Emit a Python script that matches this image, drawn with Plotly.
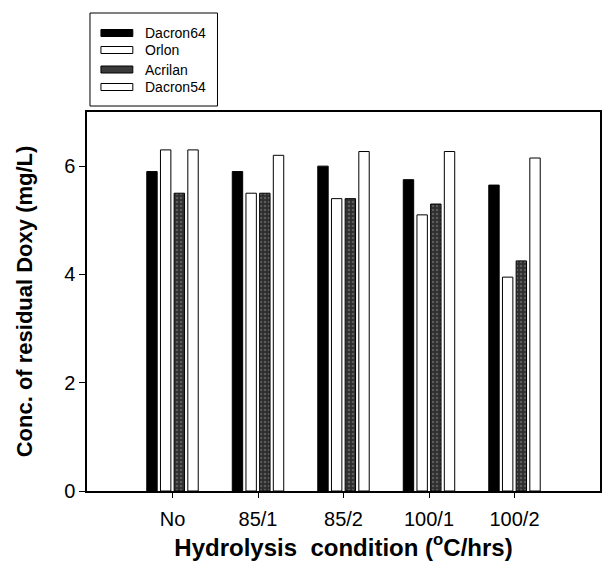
import plotly.graph_objects as go

categories = ["No", "85/1", "85/2", "100/1", "100/2"]
series_names = ["Dacron64", "Orlon", "Acrilan", "Dacron54"]
dacron64 = [5.9, 5.9, 6.0, 5.75, 5.65]
orlon = [6.3, 5.5, 5.4, 5.1, 3.95]
acrilan = [5.5, 5.5, 5.4, 5.3, 4.25]
dacron54 = [6.3, 6.2, 6.27, 6.27, 6.15]
y_ticks = [0, 2, 4, 6]

W, H = 613, 570
L, R, T, B = 87, 11, 112, 79
pw, ph = W - L - R, H - T - B

x_pos = list(range(1, len(categories) + 1))

fig = go.Figure()
styles = [
    dict(color="black"),
    dict(color="white"),
    dict(color="#2e2e2e", pattern=dict(shape=".", fgcolor="#8a8a8a", size=4, solidity=0.3)),
    dict(color="white"),
]
for name, vals, st in zip(series_names, [dacron64, orlon, acrilan, dacron54], styles):
    fig.add_trace(go.Bar(
        x=x_pos, y=vals, name=name, showlegend=False,
        marker=dict(line=dict(color="black", width=1), **st),
    ))

fig.update_layout(
    width=W, height=H,
    margin=dict(l=L, r=R, t=T, b=B),
    paper_bgcolor="white", plot_bgcolor="white",
    barmode="group", bargap=0.36, bargroupgap=0.24,
    font=dict(family="Arial, Liberation Sans, sans-serif", color="black"),
)
fig.update_xaxes(
    range=[0, 6], tickvals=x_pos, ticktext=categories,
    showline=True, linecolor="black", linewidth=1.5, mirror=True,
    ticks="outside", ticklen=5, tickcolor="black", showgrid=False, zeroline=False,
    tickfont=dict(size=20), ticklabelstandoff=4,
    title=dict(text="Hydrolysis  condition (<sup>o</sup>C/hrs)", font=dict(size=24, weight="bold"), standoff=10),
)
fig.update_yaxes(
    range=[0, 7], tickvals=y_ticks,
    showline=True, linecolor="black", linewidth=1.5, mirror=True,
    ticks="outside", ticklen=6, tickcolor="black", showgrid=False, zeroline=False,
    tickfont=dict(size=20),
    title=dict(text="Conc. of residual Doxy (mg/L)", font=dict(size=22, weight="bold"), standoff=25),
)

# manual legend (pixel layout converted to paper coords)
def px(x):
    return (x - L) / pw
def py(y):
    return (H - B - y) / ph

shapes = [dict(type="rect", xref="paper", yref="paper", x0=px(90), x1=px(218), y0=py(106), y1=py(13),
               line=dict(color="black", width=1), fillcolor="white", layer="above")]
sw_fill = ["black", "white", "#3a3a3a", "white"]
rows = [33, 50, 69.5, 87]
for name, fill, ry in zip(series_names, sw_fill, rows):
    shapes.append(dict(type="rect", xref="paper", yref="paper", x0=px(101), x1=px(133),
                       y0=py(ry + 3.5), y1=py(ry - 3.5), line=dict(color="black", width=1), fillcolor=fill))
    fig.add_annotation(xref="paper", yref="paper", x=px(143), y=py(ry), text=name, showarrow=False,
                       xanchor="left", yanchor="middle", font=dict(size=14, color="black"))
fig.update_layout(shapes=shapes)

fig.write_html("out.html")
